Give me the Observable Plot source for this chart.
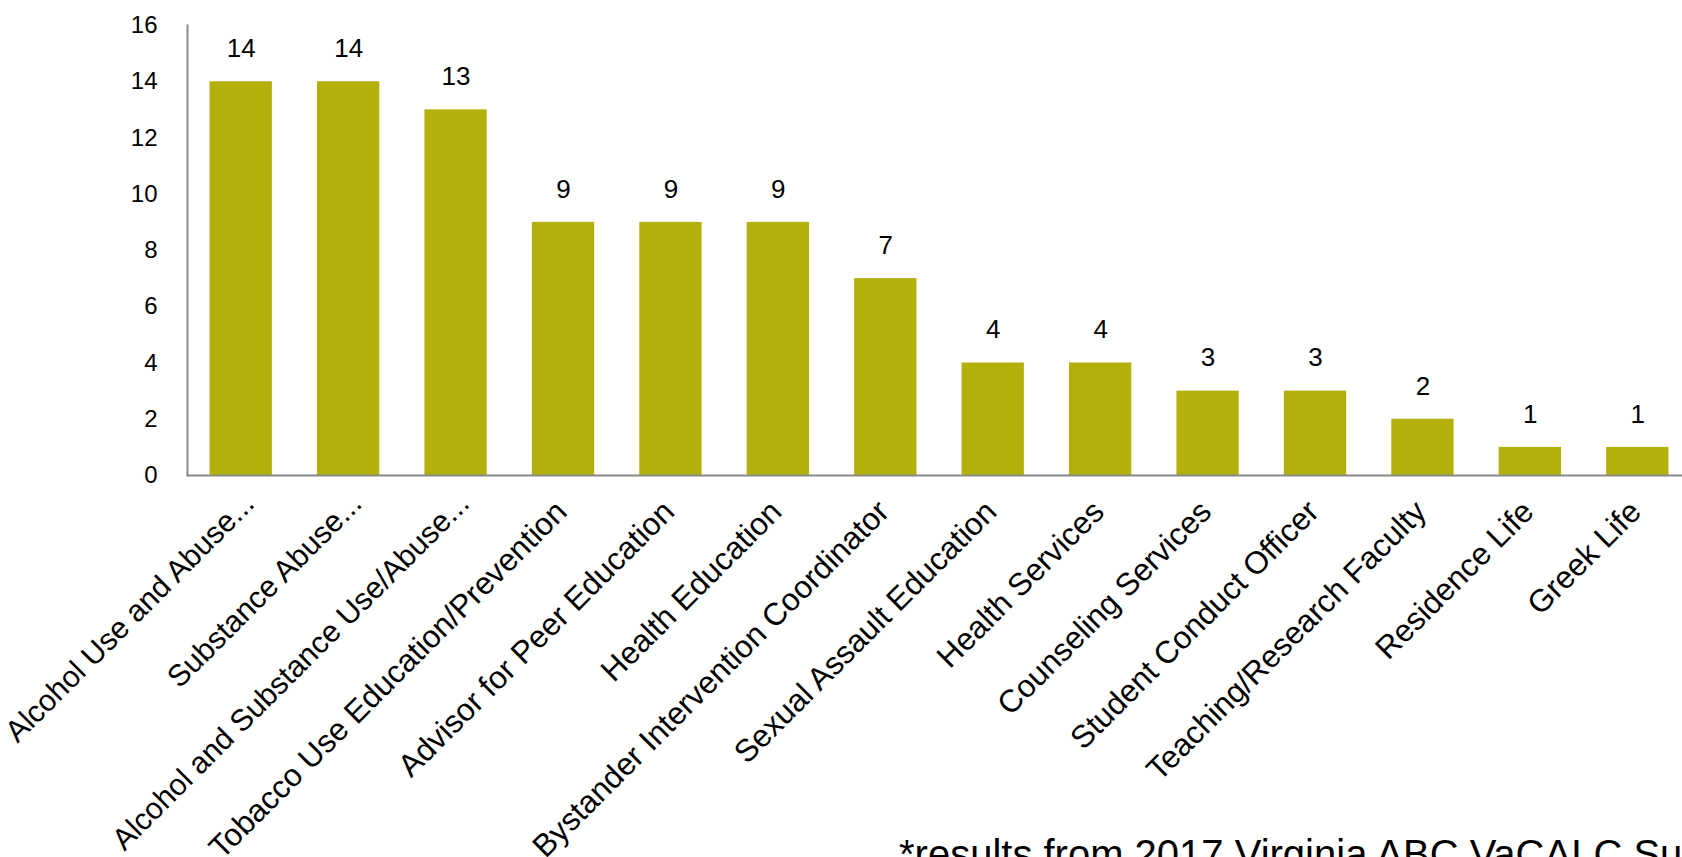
<!DOCTYPE html>
<html>
<head>
<meta charset="utf-8">
<script src="https://cdn.jsdelivr.net/npm/d3@7"></script>
<script src="https://cdn.jsdelivr.net/npm/@observablehq/plot@0.6"></script>
<style>
  html, body { margin: 0; padding: 0; background: #fff; overflow: hidden; width: 1682px; height: 857px; }
  #wrap { position: relative; width: 1682px; height: 857px; overflow: hidden; }
  #chart { position: absolute; left: 0; top: 0; width: 1700px; }
  #chart svg { max-width: none !important; }
  #caption { position: absolute; left: 899px; top: 834px; font-family: "Liberation Sans", Arial, sans-serif; font-size: 40px; line-height: 1; white-space: nowrap; color: #000; }
</style>
</head>
<body>
<div id="wrap"><div id="chart"></div><div id="caption"></div></div>
<script>
const categories = [
  "Alcohol Use and Abuse...",
  "Substance Abuse...",
  "Alcohol and Substance Use/Abuse...",
  "Tobacco Use Education/Prevention",
  "Advisor for Peer Education",
  "Health Education",
  "Bystander Intervention Coordinator",
  "Sexual Assault Education",
  "Health Services",
  "Counseling Services",
  "Student Conduct Officer",
  "Teaching/Research Faculty",
  "Residence Life",
  "Greek Life"
];
const counts = [14, 14, 13, 9, 9, 9, 7, 4, 4, 3, 3, 2, 1, 1];
const yTicks = [0, 2, 4, 6, 8, 10, 12, 14, 16];
const captionText = "*results from 2017 Virginia ABC VaCALC Survey";

const data = categories.map((c, i) => ({category: c, count: counts[i], truncated: c.endsWith("...")}));

const plot = Plot.plot({
  width: 1700,
  height: 857,
  marginLeft: 187,
  marginRight: 9,
  marginTop: 25,
  marginBottom: 382,
  style: {fontFamily: "'Liberation Sans', Arial, sans-serif", background: "#fff", color: "#000", overflow: "visible", maxWidth: "none"},
  x: {domain: categories, paddingInner: 0.42, paddingOuter: 0.21, round: false, axis: null},
  y: {domain: [0, 16], axis: null},
  marks: [
    Plot.barY(data, {x: "category", y: "count", fill: "#b3af0b"}),
    Plot.frame({anchor: "left", stroke: "#8a8a8a", strokeWidth: 2}),
    Plot.ruleY([0], {stroke: "#8a8a8a", strokeWidth: 2}),
    Plot.axisY({ticks: yTicks, label: null, tickSize: 0, tickPadding: 30, fontSize: 24, fill: "#000"}),
    Plot.text(data, {x: "category", y: "count", text: d => String(d.count), dy: -33, fontSize: 26, lineAnchor: "middle", fill: "#000"}),
    Plot.text(data.filter(d => !d.truncated), {x: "category", text: "category", frameAnchor: "bottom", rotate: -45, textAnchor: "end", lineAnchor: "middle", dx: -2, dy: 31, fontSize: 31.5, fill: "#000"}),
    Plot.text(data.filter(d => d.truncated), {x: "category", text: "category", frameAnchor: "bottom", rotate: -45, textAnchor: "end", lineAnchor: "middle", dx: 8, dy: 23, fontSize: 30.2, fill: "#000"})
  ]
});
document.getElementById("chart").appendChild(plot);
document.getElementById("caption").textContent = captionText;
</script>
</body>
</html>
